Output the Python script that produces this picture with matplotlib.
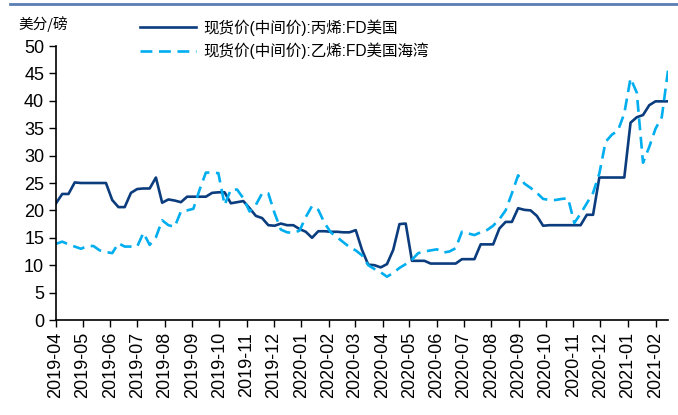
import matplotlib
matplotlib.use('Agg')
import matplotlib.pyplot as plt
import matplotlib.dates as mdates
from matplotlib.lines import Line2D
import pandas as pd

plt.rcParams['font.family'] = ['Liberation Sans', 'Noto Sans CJK SC', 'DejaVu Sans']

# weekly spot prices, US cents/lb
dates = pd.date_range('2019-04-01', periods=99, freq='7D')

propylene = [21.3, 23.0, 23.0, 25.1, 25.0, 25.0, 25.0, 25.0, 25.0, 21.9,
             20.6, 20.6, 23.2, 23.9, 24.0, 24.0, 26.0, 21.4, 22.0, 21.8,
             21.5, 22.5, 22.5, 22.5, 22.5, 23.2, 23.3, 23.3, 21.3, 21.5,
             21.7, 20.4, 19.0, 18.6, 17.3, 17.2, 17.6, 17.3, 17.3, 16.6,
             16.1, 15.0, 16.2, 16.2, 16.1, 16.1, 16.0, 16.0, 16.4, 12.8,
             10.1, 10.0, 9.6, 10.2, 12.8, 17.5, 17.6, 10.8, 10.8, 10.8,
             10.3, 10.3, 10.3, 10.3, 10.3, 11.1, 11.1, 11.1, 13.8, 13.8,
             13.8, 16.7, 17.9, 17.9, 20.4, 20.1, 20.0, 19.0, 17.2, 17.3,
             17.3, 17.3, 17.3, 17.3, 17.3, 19.2, 19.2, 26.0, 26.0, 26.0,
             26.0, 26.0, 36.0, 37.0, 37.4, 39.2, 39.9, 39.9, 39.9]

ethylene = [13.9, 14.3, 13.8, 13.4, 13.0, 13.5, 13.5, 12.7, 12.4, 12.2,
            14.0, 13.4, 13.4, 13.4, 15.9, 13.7, 15.1, 18.2, 17.3, 17.0,
            19.8, 20.0, 20.3, 23.8, 26.9, 26.9, 26.8, 21.0, 23.8, 23.8,
            22.2, 19.8, 21.0, 23.1, 23.1, 19.5, 16.5, 16.0, 15.9, 16.3,
            18.8, 20.8, 20.1, 17.7, 16.0, 15.1, 14.2, 13.3, 12.7, 11.8,
            10.0, 9.3, 8.7, 7.9, 8.6, 9.5, 10.2, 11.0, 12.2, 12.5,
            12.7, 12.9, 12.3, 12.5, 13.1, 16.1, 15.8, 15.5, 16.0, 16.4,
            17.2, 18.4, 20.0, 23.1, 26.4, 24.9, 24.1, 23.2, 22.1, 21.9,
            21.9, 22.1, 22.2, 17.7, 19.4, 21.3, 23.2, 26.7, 32.5, 33.8,
            34.6, 37.7, 44.1, 41.5, 28.7, 31.6, 34.9, 37.0, 45.5]

label_p = '现货价(中间价):丙烯:FD美国'
label_e = '现货价(中间价):乙烯:FD美国海湾'
yticks = list(range(0, 51, 5))

c_dark = '#0B3C7D'
c_light = '#00AEEF'

fig = plt.figure(figsize=(6.78, 4.15), dpi=100)
ax = fig.add_axes([56/678, 1-320/415, 612/678, 274/415])

ax.plot(dates, propylene, color=c_dark, lw=1.9, label=label_p)
ax.plot(dates, ethylene, color=c_light, lw=1.9, dashes=(4.5, 2.5), label=label_e)

ax.set_ylim(0, 50)
ax.set_yticks(yticks)
ax.set_xlim(dates[0], dates[-1])
ax.xaxis.set_major_locator(mdates.MonthLocator())
ax.xaxis.set_major_formatter(mdates.DateFormatter('%Y-%m'))
ax.tick_params(axis='x', rotation=90, labelsize=13, length=5, width=1, direction='out')
ax.tick_params(axis='y', labelsize=13, length=5, width=1, direction='out')
for s in ['top', 'right']:
    ax.spines[s].set_visible(False)
for s in ['left', 'bottom']:
    ax.spines[s].set_linewidth(1.2)

fig.text(18/678, 1-24/415, '美分/磅', fontsize=10.5, va='center', ha='left',
         family=['Noto Sans CJK SC'])

fig.legend(loc='upper left', bbox_to_anchor=(126/678, 1-5/415), frameon=False,
           fontsize=11.2, handlelength=3.6, labelspacing=0.45, handletextpad=0.5)

fig.add_artist(Line2D([10/678, 1], [1-4/415, 1-4/415], color='#5B7DB5', lw=2,
                      transform=fig.transFigure))

fig.savefig('out.png', dpi=100)
